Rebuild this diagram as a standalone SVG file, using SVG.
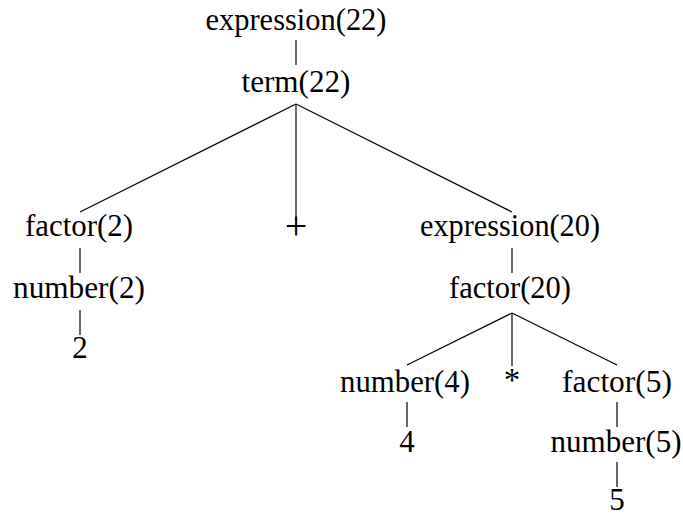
<svg xmlns="http://www.w3.org/2000/svg" width="683" height="516" viewBox="0 0 683 516">
<style>
.t{font-family:'Liberation Serif','Times New Roman','DejaVu Serif',serif;font-size:31px;fill:#000;text-anchor:middle}
line{stroke:#000;stroke-width:1.2}
</style>
<rect width="683" height="516" fill="#fff"/>
<g id="connectors">
<line x1="296" y1="40" x2="296" y2="65"/>
<line x1="296" y1="104" x2="80" y2="212"/>
<line x1="296" y1="104" x2="296" y2="220"/>
<line x1="296" y1="104" x2="512" y2="212"/>
<line x1="80" y1="248" x2="80" y2="273"/>
<line x1="80" y1="310" x2="80" y2="335"/>
<line x1="512" y1="248" x2="512" y2="273"/>
<line x1="512" y1="313" x2="407" y2="365"/>
<line x1="512" y1="313" x2="512" y2="366"/>
<line x1="512" y1="313" x2="617" y2="365"/>
<line x1="407" y1="402" x2="407" y2="427"/>
<line x1="617" y1="402" x2="617" y2="427"/>
<line x1="617" y1="462" x2="617" y2="487"/>
</g>
<g class="t" font-family="Liberation Serif, serif">
<g id="n_expr22"><text x="296" y="30" textLength="181" lengthAdjust="spacingAndGlyphs">expression(22)</text></g>
<g id="n_term22"><text x="296" y="92" textLength="109" lengthAdjust="spacingAndGlyphs">term(22)</text></g>
<g id="n_factor2"><text x="79" y="236" textLength="108" lengthAdjust="spacingAndGlyphs">factor(2)</text></g>
<g id="n_plus"><text x="296" y="239" style="font-size:40px">+</text></g>
<g id="n_expr20"><text x="510" y="236" textLength="180" lengthAdjust="spacingAndGlyphs">expression(20)</text></g>
<g id="n_number2"><text x="79" y="298" textLength="132" lengthAdjust="spacingAndGlyphs">number(2)</text></g>
<g id="n_factor20"><text x="510" y="298" textLength="122" lengthAdjust="spacingAndGlyphs">factor(20)</text></g>
<g id="n_two"><text x="80" y="358">2</text></g>
<g id="n_number4"><text x="405" y="392" textLength="130" lengthAdjust="spacingAndGlyphs">number(4)</text></g>
<g id="n_star"><text x="512" y="391" style="font-size:33px">*</text></g>
<g id="n_factor5"><text x="617" y="392" textLength="110" lengthAdjust="spacingAndGlyphs">factor(5)</text></g>
<g id="n_four"><text x="407" y="452">4</text></g>
<g id="n_number5"><text x="616" y="452" textLength="131" lengthAdjust="spacingAndGlyphs">number(5)</text></g>
<g id="n_five"><text x="617" y="510">5</text></g>
</g>
</svg>
